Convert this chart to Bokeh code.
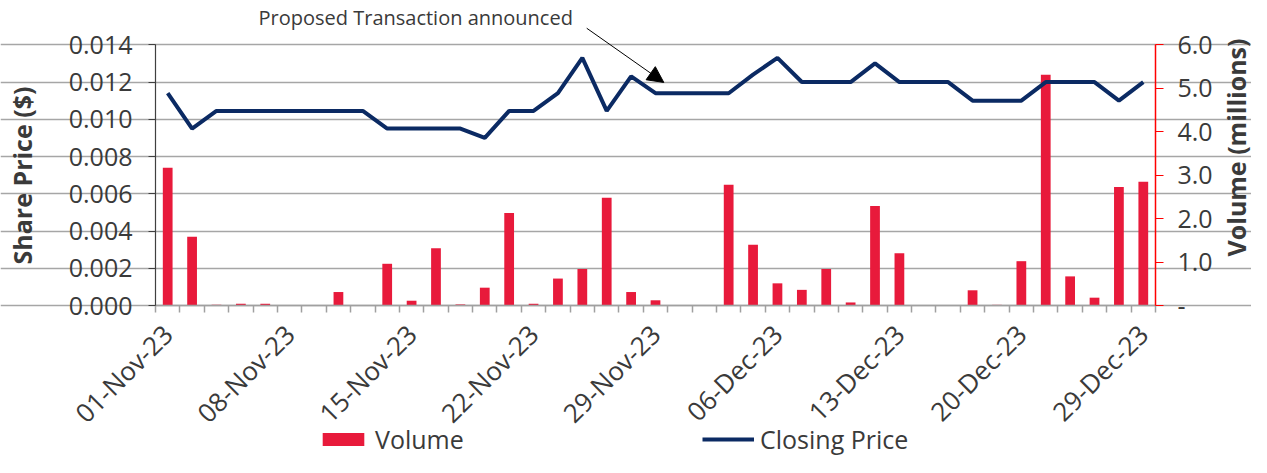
from math import pi
from bokeh.plotting import figure
from bokeh.models import (Range1d, LinearAxis, FixedTicker, PrintfTickFormatter,
                          Legend, LegendItem, Label, Arrow, NormalHead, ColumnDataSource)
from bokeh.embed import file_html
from bokeh.resources import INLINE

# ---------------- data ----------------
dates = ["01-Nov-23", "02-Nov-23", "03-Nov-23", "06-Nov-23", "07-Nov-23", "08-Nov-23",
         "09-Nov-23", "10-Nov-23", "13-Nov-23", "14-Nov-23", "15-Nov-23", "16-Nov-23",
         "17-Nov-23", "20-Nov-23", "21-Nov-23", "22-Nov-23", "23-Nov-23", "24-Nov-23",
         "27-Nov-23", "28-Nov-23", "29-Nov-23", "30-Nov-23", "01-Dec-23", "04-Dec-23",
         "05-Dec-23", "06-Dec-23", "07-Dec-23", "08-Dec-23", "11-Dec-23", "12-Dec-23",
         "13-Dec-23", "14-Dec-23", "15-Dec-23", "18-Dec-23", "19-Dec-23", "20-Dec-23",
         "21-Dec-23", "22-Dec-23", "27-Dec-23", "28-Dec-23", "29-Dec-23"]

closing_price = [0.0114, 0.0095, 0.01045, 0.01045, 0.01045, 0.01045, 0.01045, 0.01045,
                 0.01045, 0.0095, 0.0095, 0.0095, 0.0095, 0.0090, 0.01045, 0.01045,
                 0.0114, 0.0133, 0.01045, 0.0123, 0.0114, 0.0114, 0.0114, 0.0114,
                 0.0124, 0.0133, 0.0120, 0.0120, 0.0120, 0.0130, 0.0120, 0.0120,
                 0.0120, 0.0110, 0.0110, 0.0110, 0.0120, 0.0120, 0.0120, 0.0110, 0.0120]

volume_millions = [3.17, 1.58, 0.015, 0.04, 0.04, 0.0, 0.0, 0.31, 0.0, 0.96, 0.11,
                   1.32, 0.025, 0.41, 2.13, 0.04, 0.62, 0.84, 2.48, 0.31, 0.12, 0.0,
                   0.0, 2.78, 1.40, 0.51, 0.36, 0.84, 0.07, 2.29, 1.20, 0.0, 0.0,
                   0.35, 0.015, 1.02, 5.31, 0.67, 0.18, 2.73, 2.85]

label_every = 5
price_ticks = [0.000, 0.002, 0.004, 0.006, 0.008, 0.010, 0.012, 0.014]
volume_ticks = [0, 1, 2, 3, 4, 5, 6]
price_axis_max = 0.014
volume_axis_max = 6

annotation_text = "Proposed Transaction announced"
arrow_start = (17.18, 0.01489)
arrow_end = (20.34, 0.01198)

# ---------------- styling / layout (pixels) ----------------
FONT = "Open Sans"
TXT = "#3a3a3a"
BAR = "#E81A3B"
LINE = "#0B2A63"
GRID = "#a6a6a6"

W, H = 1251, 457
PLOT_L, PLOT_R = 155.0, 1155.0      # x pixel of the two value axes
PLOT_B, PLOT_T = 305.0, 44.3        # y pixel of 0 and of the top gridline

n = len(dates)
x_lo, x_hi = -0.5, n - 0.5
px_x = (PLOT_R - PLOT_L) / (x_hi - x_lo)
px_p = (PLOT_B - PLOT_T) / price_axis_max
px_v = (PLOT_B - PLOT_T) / volume_axis_max

# the frame fills the whole canvas; axes are pinned at fixed locations inside it
x_range = Range1d(x_lo - PLOT_L / px_x, x_hi + (W - PLOT_R) / px_x)
y_range = Range1d(-(H - PLOT_B) / px_p, PLOT_B / px_p)
v_range = Range1d(-(H - PLOT_B) / px_v, PLOT_B / px_v)

idx = list(range(n))
src = ColumnDataSource(dict(x=idx, date=dates, price=closing_price, vol=volume_millions))

p = figure(width=W, height=H, output_backend="svg", toolbar_location=None,
           x_range=x_range, y_range=y_range, min_border=0,
           min_border_left=0, min_border_right=0, min_border_top=0, min_border_bottom=0)
p.extra_y_ranges = {"vol": v_range}
p.outline_line_color = None
p.background_fill_color = "white"
p.border_fill_color = "white"

# grid
p.xgrid.grid_line_color = None
p.ygrid.ticker = FixedTicker(ticks=price_ticks)
p.ygrid.bounds = (x_lo, x_hi)
p.ygrid.grid_line_color = GRID
p.ygrid.grid_line_width = 1.5

# bars and line
bars = p.vbar(x="x", top="vol", width=0.4, source=src, y_range_name="vol",
              fill_color=BAR, line_color=None)
line = p.line(x="x", y="price", source=src, line_color=LINE, line_width=4)

# left axis
ya = p.yaxis[0]
ya.fixed_location = x_lo
ya.bounds = (0, price_axis_max)
ya.ticker = FixedTicker(ticks=price_ticks)
ya.formatter = PrintfTickFormatter(format="%.3f")
ya.axis_line_color = "#404040"
ya.axis_line_width = 1.2
ya.major_tick_line_color = "#404040"
ya.major_tick_out = 7
ya.major_tick_in = 0
ya.minor_tick_line_color = None
ya.major_label_text_font = FONT
ya.major_label_text_font_size = "25px"
ya.major_label_text_color = TXT
ya.major_label_standoff = 16

# right axis
ra = LinearAxis(y_range_name="vol", ticker=FixedTicker(ticks=volume_ticks),
                formatter=PrintfTickFormatter(format="%.1f"),
                bounds=(0, volume_axis_max), fixed_location=x_hi)
ra.major_label_overrides = {0: "-"}
ra.axis_line_color = "#ff0000"
ra.axis_line_width = 1.5
ra.major_tick_line_color = "#ff0000"
ra.major_tick_out = 8
ra.major_tick_in = 0
ra.minor_tick_line_color = None
ra.major_label_text_font = FONT
ra.major_label_text_font_size = "25px"
ra.major_label_text_color = TXT
ra.major_label_standoff = 14
p.add_layout(ra, "right")

# x axis
xa = p.xaxis[0]
xa.fixed_location = 0
xa.bounds = (x_lo, x_hi)
xa.ticker = FixedTicker(ticks=idx[::label_every] + ([idx[-1]] if idx[-1] % label_every else []),
                        minor_ticks=[i - 0.5 for i in range(n + 1)])
xa.major_label_overrides = {i: dates[i] for i in idx}
xa.major_label_orientation = pi / 4
xa.major_tick_out = 0
xa.major_tick_in = 0
xa.minor_tick_out = 7
xa.minor_tick_in = 0
xa.minor_tick_line_color = "#a0a0a0"
xa.minor_tick_line_width = 1.5
xa.axis_line_color = "#a0a0a0"
xa.axis_line_width = 1.5
xa.major_label_text_font = FONT
xa.major_label_text_font_size = "26px"
xa.major_label_text_color = TXT
xa.major_label_standoff = 17

# axis titles (screen units: from the canvas bottom-left)
p.add_layout(Label(x=21, y=H - 175, x_units="screen", y_units="screen", angle=pi / 2,
                   text="Share Price ($)", text_font=FONT, text_font_size="25px",
                   text_font_style="bold", text_color=TXT, text_align="center",
                   text_baseline="middle"))
p.add_layout(Label(x=1235, y=H - 147, x_units="screen", y_units="screen", angle=pi / 2,
                   text="Volume (millions)", text_font=FONT, text_font_size="25px",
                   text_font_style="bold", text_color=TXT, text_align="center",
                   text_baseline="middle"))

# annotation
p.add_layout(Label(x=258, y=H - 17, x_units="screen", y_units="screen",
                   text=annotation_text, text_font=FONT, text_font_size="20px",
                   text_color=TXT, text_align="left", text_baseline="middle"))
p.add_layout(Arrow(x_start=arrow_start[0], y_start=arrow_start[1],
                   x_end=arrow_end[0], y_end=arrow_end[1], line_color="black", line_width=1,
                   end=NormalHead(size=16, fill_color="black", line_color="black")))

# legends
def make_legend(item, x, y):
    return Legend(items=[item], location=(x, y), orientation="horizontal",
                  glyph_width=52, glyph_height=16, label_standoff=6, padding=0, margin=0,
                  border_line_color=None, background_fill_alpha=0,
                  label_text_font=FONT, label_text_font_size="25px", label_text_color=TXT,
                  label_text_baseline="middle")

p.add_layout(make_legend(LegendItem(label="Volume", renderers=[bars]), 317, 1))
p.add_layout(make_legend(LegendItem(label="Closing Price", renderers=[line]), 702, 1))

open("out.html", "w").write(file_html(p, INLINE))
